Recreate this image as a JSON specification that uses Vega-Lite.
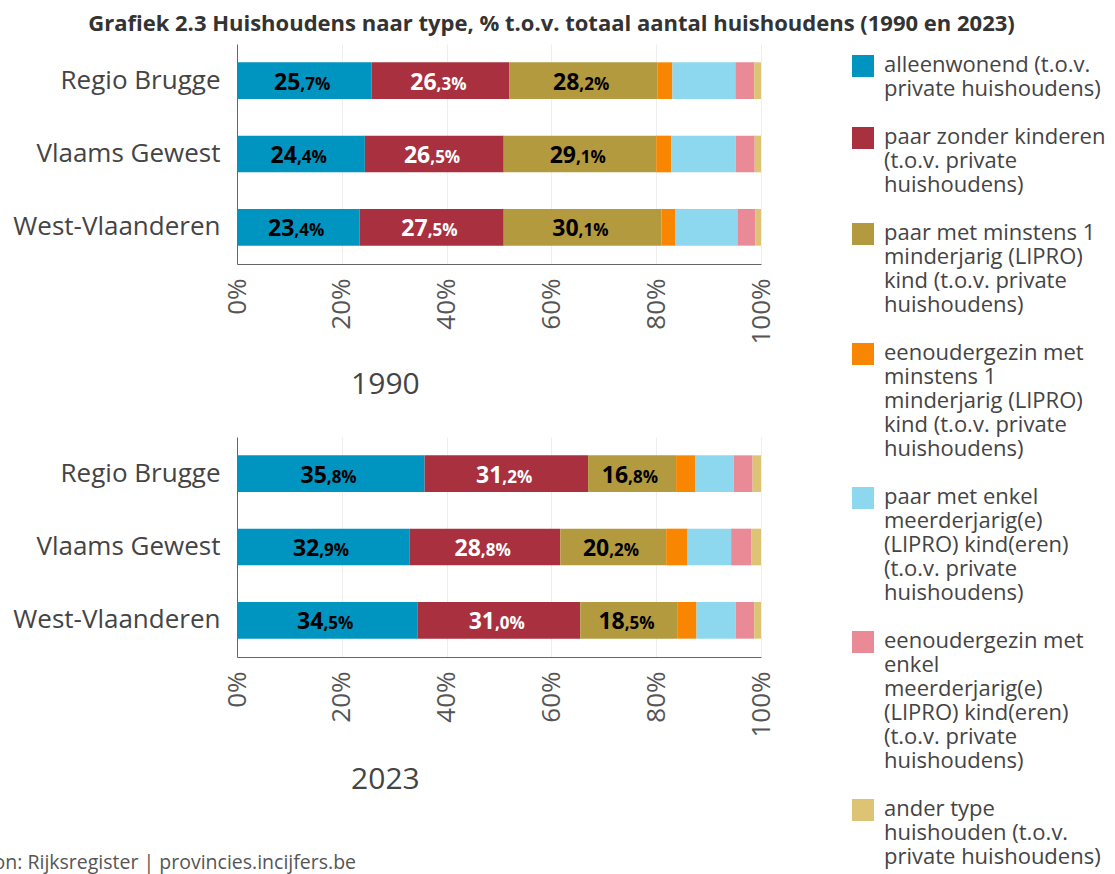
{
  "$schema": "https://vega.github.io/schema/vega-lite/v6.json",
  "padding": {"left": -27, "top": 13, "right": 5, "bottom": 2},
  "title": {"text": "Grafiek 2.3 Huishoudens naar type, % t.o.v. totaal aantal huishoudens (1990 en 2023)", "anchor": "middle", "frame": "bounds", "fontSize": 22, "fontWeight": "bold", "color": "#333333", "offset": 8, "dx": 12},
  "datasets": {
    "types": [
      {"k": 1, "type": "alleenwonend (t.o.v. private huishoudens)"},
      {"k": 2, "type": "paar zonder kinderen (t.o.v. private huishoudens)"},
      {"k": 3, "type": "paar met minstens 1 minderjarig (LIPRO) kind (t.o.v. private huishoudens)"},
      {"k": 4, "type": "eenoudergezin met minstens 1 minderjarig (LIPRO) kind (t.o.v. private huishoudens)"},
      {"k": 5, "type": "paar met enkel meerderjarig(e) (LIPRO) kind(eren) (t.o.v. private huishoudens)"},
      {"k": 6, "type": "eenoudergezin met enkel meerderjarig(e) (LIPRO) kind(eren) (t.o.v. private huishoudens)"},
      {"k": 7, "type": "ander type huishouden (t.o.v. private huishoudens)"}
    ],
    "d": [
      {"year": 1990, "region": "Regio Brugge", "k": 1, "value": 25.7},
      {"year": 1990, "region": "Regio Brugge", "k": 2, "value": 26.3},
      {"year": 1990, "region": "Regio Brugge", "k": 3, "value": 28.2},
      {"year": 1990, "region": "Regio Brugge", "k": 4, "value": 2.9},
      {"year": 1990, "region": "Regio Brugge", "k": 5, "value": 12.0},
      {"year": 1990, "region": "Regio Brugge", "k": 6, "value": 3.6},
      {"year": 1990, "region": "Regio Brugge", "k": 7, "value": 1.3},
      {"year": 1990, "region": "Vlaams Gewest", "k": 1, "value": 24.4},
      {"year": 1990, "region": "Vlaams Gewest", "k": 2, "value": 26.5},
      {"year": 1990, "region": "Vlaams Gewest", "k": 3, "value": 29.1},
      {"year": 1990, "region": "Vlaams Gewest", "k": 4, "value": 2.9},
      {"year": 1990, "region": "Vlaams Gewest", "k": 5, "value": 12.3},
      {"year": 1990, "region": "Vlaams Gewest", "k": 6, "value": 3.6},
      {"year": 1990, "region": "Vlaams Gewest", "k": 7, "value": 1.2},
      {"year": 1990, "region": "West-Vlaanderen", "k": 1, "value": 23.4},
      {"year": 1990, "region": "West-Vlaanderen", "k": 2, "value": 27.5},
      {"year": 1990, "region": "West-Vlaanderen", "k": 3, "value": 30.1},
      {"year": 1990, "region": "West-Vlaanderen", "k": 4, "value": 2.7},
      {"year": 1990, "region": "West-Vlaanderen", "k": 5, "value": 11.8},
      {"year": 1990, "region": "West-Vlaanderen", "k": 6, "value": 3.4},
      {"year": 1990, "region": "West-Vlaanderen", "k": 7, "value": 1.1},
      {"year": 2023, "region": "Regio Brugge", "k": 1, "value": 35.8},
      {"year": 2023, "region": "Regio Brugge", "k": 2, "value": 31.2},
      {"year": 2023, "region": "Regio Brugge", "k": 3, "value": 16.8},
      {"year": 2023, "region": "Regio Brugge", "k": 4, "value": 3.6},
      {"year": 2023, "region": "Regio Brugge", "k": 5, "value": 7.4},
      {"year": 2023, "region": "Regio Brugge", "k": 6, "value": 3.6},
      {"year": 2023, "region": "Regio Brugge", "k": 7, "value": 1.6},
      {"year": 2023, "region": "Vlaams Gewest", "k": 1, "value": 32.9},
      {"year": 2023, "region": "Vlaams Gewest", "k": 2, "value": 28.8},
      {"year": 2023, "region": "Vlaams Gewest", "k": 3, "value": 20.2},
      {"year": 2023, "region": "Vlaams Gewest", "k": 4, "value": 4.1},
      {"year": 2023, "region": "Vlaams Gewest", "k": 5, "value": 8.3},
      {"year": 2023, "region": "Vlaams Gewest", "k": 6, "value": 3.9},
      {"year": 2023, "region": "Vlaams Gewest", "k": 7, "value": 1.8},
      {"year": 2023, "region": "West-Vlaanderen", "k": 1, "value": 34.5},
      {"year": 2023, "region": "West-Vlaanderen", "k": 2, "value": 31.0},
      {"year": 2023, "region": "West-Vlaanderen", "k": 3, "value": 18.5},
      {"year": 2023, "region": "West-Vlaanderen", "k": 4, "value": 3.7},
      {"year": 2023, "region": "West-Vlaanderen", "k": 5, "value": 7.5},
      {"year": 2023, "region": "West-Vlaanderen", "k": 6, "value": 3.5},
      {"year": 2023, "region": "West-Vlaanderen", "k": 7, "value": 1.3}
    ]
  },
  "vconcat": [
    {
      "width": 524, "height": 220,
      "title": {"text": "1990", "orient": "bottom", "anchor": "middle", "frame": "bounds", "fontSize": 30, "fontWeight": "normal", "color": "#444444", "offset": 26, "dx": -8},
      "data": {"name": "d"},
      "transform": [
        {"filter": "datum.year == 1990"},
        {"lookup": "k", "from": {"data": {"name": "types"}, "key": "k", "fields": ["type"]}},
        {"stack": "value", "groupby": ["region"], "sort": [{"field": "k", "order": "ascending"}], "as": ["v0", "v1"]},
        {"calculate": "(datum.v0 + datum.v1) / 2", "as": "mid"},
        {"calculate": "'' + floor(datum.value)", "as": "ip"},
        {"calculate": "',' + (round(datum.value * 10) % 10) + '%'", "as": "dp"}
      ],
      "encoding": {
        "y": {"field": "region", "type": "nominal", "sort": ["Regio Brugge", "Vlaams Gewest", "West-Vlaanderen"], "scale": {"paddingInner": 0.5, "paddingOuter": 0.25}, "axis": {"title": null}}
      },
      "layer": [
        {
          "mark": {"type": "bar"},
          "encoding": {
            "x": {"field": "v0", "type": "quantitative", "scale": {"domain": [0, 100]}, "axis": {"title": null, "values": [0, 20, 40, 60, 80, 100], "labelExpr": "datum.value + '%'", "labelAngle": 270}},
            "x2": {"field": "v1"},
            "color": {"field": "type", "type": "nominal", "scale": {"domain": [
              "alleenwonend (t.o.v. private huishoudens)",
              "paar zonder kinderen (t.o.v. private huishoudens)",
              "paar met minstens 1 minderjarig (LIPRO) kind (t.o.v. private huishoudens)",
              "eenoudergezin met minstens 1 minderjarig (LIPRO) kind (t.o.v. private huishoudens)",
              "paar met enkel meerderjarig(e) (LIPRO) kind(eren) (t.o.v. private huishoudens)",
              "eenoudergezin met enkel meerderjarig(e) (LIPRO) kind(eren) (t.o.v. private huishoudens)",
              "ander type huishouden (t.o.v. private huishoudens)"],
              "range": ["#0094C0", "#A8303F", "#B39A3E", "#F88600", "#8ED8EF", "#E98A96", "#DCC474"]},
              "legend": {"title": null, "labelExpr": "datum.label == 'alleenwonend (t.o.v. private huishoudens)' ? ['alleenwonend (t.o.v.', 'private huishoudens)'] : datum.label == 'paar zonder kinderen (t.o.v. private huishoudens)' ? ['paar zonder kinderen', '(t.o.v. private', 'huishoudens)'] : datum.label == 'paar met minstens 1 minderjarig (LIPRO) kind (t.o.v. private huishoudens)' ? ['paar met minstens 1', 'minderjarig (LIPRO)', 'kind (t.o.v. private', 'huishoudens)'] : datum.label == 'eenoudergezin met minstens 1 minderjarig (LIPRO) kind (t.o.v. private huishoudens)' ? ['eenoudergezin met', 'minstens 1', 'minderjarig (LIPRO)', 'kind (t.o.v. private', 'huishoudens)'] : datum.label == 'paar met enkel meerderjarig(e) (LIPRO) kind(eren) (t.o.v. private huishoudens)' ? ['paar met enkel', 'meerderjarig(e)', '(LIPRO) kind(eren)', '(t.o.v. private', 'huishoudens)'] : datum.label == 'eenoudergezin met enkel meerderjarig(e) (LIPRO) kind(eren) (t.o.v. private huishoudens)' ? ['eenoudergezin met', 'enkel', 'meerderjarig(e)', '(LIPRO) kind(eren)', '(t.o.v. private', 'huishoudens)'] : ['ander type', 'huishouden (t.o.v.', 'private huishoudens)']"}}
          }
        },
        {
          "transform": [{"filter": "datum.k <= 3"}],
          "mark": {"type": "text", "align": "right", "baseline": "alphabetic", "dx": -4, "dy": 9, "fontSize": 23, "fontWeight": "bold"},
          "encoding": {
            "x": {"field": "mid", "type": "quantitative"},
            "text": {"field": "ip", "type": "nominal"},
            "color": {"condition": {"test": "datum.k == 2", "value": "#ffffff"}, "value": "#000000"}
          }
        },
        {
          "transform": [{"filter": "datum.k <= 3"}],
          "mark": {"type": "text", "align": "left", "baseline": "alphabetic", "dx": -4, "dy": 9, "fontSize": 17, "fontWeight": "bold"},
          "encoding": {
            "x": {"field": "mid", "type": "quantitative"},
            "text": {"field": "dp", "type": "nominal"},
            "color": {"condition": {"test": "datum.k == 2", "value": "#ffffff"}, "value": "#000000"}
          }
        }
      ]
    },
    {
      "width": 524, "height": 220,
      "title": {"text": "2023", "orient": "bottom", "anchor": "middle", "frame": "bounds", "fontSize": 30, "fontWeight": "normal", "color": "#444444", "offset": 28, "dx": -8},
      "data": {"name": "d"},
      "transform": [
        {"filter": "datum.year == 2023"},
        {"lookup": "k", "from": {"data": {"name": "types"}, "key": "k", "fields": ["type"]}},
        {"stack": "value", "groupby": ["region"], "sort": [{"field": "k", "order": "ascending"}], "as": ["v0", "v1"]},
        {"calculate": "(datum.v0 + datum.v1) / 2", "as": "mid"},
        {"calculate": "'' + floor(datum.value)", "as": "ip"},
        {"calculate": "',' + (round(datum.value * 10) % 10) + '%'", "as": "dp"}
      ],
      "encoding": {
        "y": {"field": "region", "type": "nominal", "sort": ["Regio Brugge", "Vlaams Gewest", "West-Vlaanderen"], "scale": {"paddingInner": 0.5, "paddingOuter": 0.25}, "axis": {"title": null}}
      },
      "layer": [
        {
          "mark": {"type": "bar"},
          "encoding": {
            "x": {"field": "v0", "type": "quantitative", "scale": {"domain": [0, 100]}, "axis": {"title": null, "values": [0, 20, 40, 60, 80, 100], "labelExpr": "datum.value + '%'", "labelAngle": 270}},
            "x2": {"field": "v1"},
            "color": {"field": "type", "type": "nominal", "legend": {"title": null, "labelExpr": "datum.label == 'alleenwonend (t.o.v. private huishoudens)' ? ['alleenwonend (t.o.v.', 'private huishoudens)'] : datum.label == 'paar zonder kinderen (t.o.v. private huishoudens)' ? ['paar zonder kinderen', '(t.o.v. private', 'huishoudens)'] : datum.label == 'paar met minstens 1 minderjarig (LIPRO) kind (t.o.v. private huishoudens)' ? ['paar met minstens 1', 'minderjarig (LIPRO)', 'kind (t.o.v. private', 'huishoudens)'] : datum.label == 'eenoudergezin met minstens 1 minderjarig (LIPRO) kind (t.o.v. private huishoudens)' ? ['eenoudergezin met', 'minstens 1', 'minderjarig (LIPRO)', 'kind (t.o.v. private', 'huishoudens)'] : datum.label == 'paar met enkel meerderjarig(e) (LIPRO) kind(eren) (t.o.v. private huishoudens)' ? ['paar met enkel', 'meerderjarig(e)', '(LIPRO) kind(eren)', '(t.o.v. private', 'huishoudens)'] : datum.label == 'eenoudergezin met enkel meerderjarig(e) (LIPRO) kind(eren) (t.o.v. private huishoudens)' ? ['eenoudergezin met', 'enkel', 'meerderjarig(e)', '(LIPRO) kind(eren)', '(t.o.v. private', 'huishoudens)'] : ['ander type', 'huishouden (t.o.v.', 'private huishoudens)']"}}
          }
        },
        {
          "transform": [{"filter": "datum.k <= 3"}],
          "mark": {"type": "text", "align": "right", "baseline": "alphabetic", "dx": -4, "dy": 9, "fontSize": 23, "fontWeight": "bold"},
          "encoding": {
            "x": {"field": "mid", "type": "quantitative"},
            "text": {"field": "ip", "type": "nominal"},
            "color": {"condition": {"test": "datum.k == 2", "value": "#ffffff"}, "value": "#000000"}
          }
        },
        {
          "transform": [{"filter": "datum.k <= 3"}],
          "mark": {"type": "text", "align": "left", "baseline": "alphabetic", "dx": -4, "dy": 9, "fontSize": 17, "fontWeight": "bold"},
          "encoding": {
            "x": {"field": "mid", "type": "quantitative"},
            "text": {"field": "dp", "type": "nominal"},
            "color": {"condition": {"test": "datum.k == 2", "value": "#ffffff"}, "value": "#000000"}
          }
        }
      ]
    },
    {
      "width": 10, "height": 62,
      "data": {"values": [{"src": "Bron: Rijksregister | provincies.incijfers.be"}]},
      "mark": {"type": "text", "align": "left", "baseline": "middle", "fontSize": 19.5, "color": "#555555", "dx": -269},
      "encoding": {"text": {"field": "src", "type": "nominal"}}
    }
  ],
  "spacing": 36,
  "config": {
    "font": "Open Sans",
    "view": {"stroke": null},
    "axisX": {"domain": true, "domainColor": "#666666", "ticks": false, "tickSize": 0, "grid": true, "gridColor": "#eeeeee", "labelFontSize": 26, "labelColor": "#555555", "labelPadding": 14},
    "axisY": {"domain": true, "domainColor": "#666666", "ticks": false, "tickSize": 0, "grid": false, "labelFontSize": 26, "labelColor": "#444444", "labelPadding": 17, "labelLimit": 400},
    "legend": {"orient": "right", "offset": 78, "padding": 0, "symbolType": "M-1,0H1V2H-1Z", "symbolSize": 484, "symbolStrokeWidth": 0, "labelFontSize": 22, "labelColor": "#444444", "labelBaseline": "top", "labelLimit": 400, "labelOffset": 10, "rowPadding": 16},
    "style": {"guide-label": {"lineHeight": 24}}
  }
}
